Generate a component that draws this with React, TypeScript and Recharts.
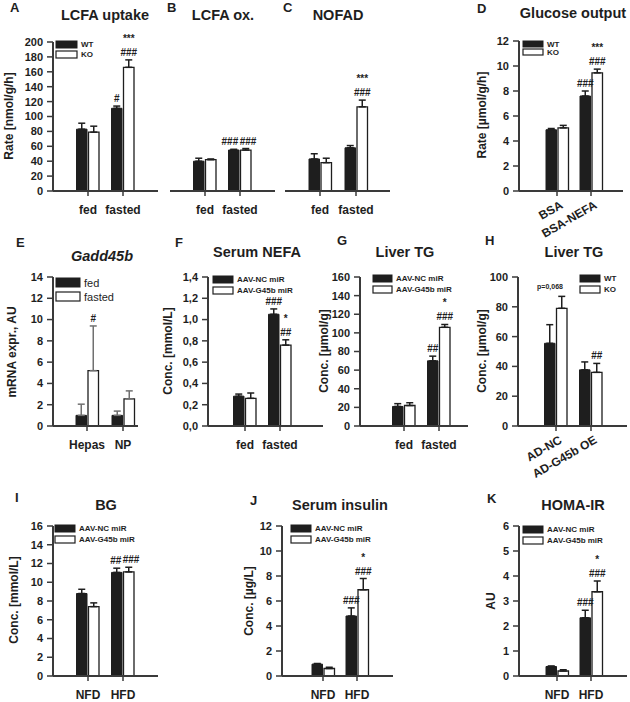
import React from "react";
import { Bar, BarChart, ErrorBar, LabelList, XAxis, YAxis } from "recharts";

const FONT = "'Liberation Sans', Arial, Helvetica, sans-serif";
const INK = "#1e1e1e";
const AXIS = "#3a3a3a";

// categories
const FED_FASTED = ["fed", "fasted"];
const BSA_GROUPS = ["BSA", "BSA-NEFA"];
const CELL_TYPES = ["Hepas", "NP"];
const AD_GROUPS = ["AD-NC", "AD-G45b OE"];
const DIETS = ["NFD", "HFD"];

// y ticks
const TICKS_200 = [0, 20, 40, 60, 80, 100, 120, 140, 160, 180, 200];
const TICKS_12 = [0, 2, 4, 6, 8, 10, 12];
const TICKS_14 = [0, 2, 4, 6, 8, 10, 12, 14];
const TICKS_NEFA = [0, 0.2, 0.4, 0.6, 0.8, 1.0, 1.2, 1.4];
const TICKS_160 = [0, 20, 40, 60, 80, 100, 120, 140, 160];
const TICKS_100 = [0, 20, 40, 60, 80, 100];
const TICKS_16 = [0, 2, 4, 6, 8, 10, 12, 14, 16];
const TICKS_6 = [0, 1, 2, 3, 4, 5, 6];

// significance strings: "|" splits lines, "<" / ">" push a label left / right
// A: LCFA uptake
const UPTAKE_WT = [83, 111];
const UPTAKE_WT_ERR = [8, 3];
const UPTAKE_WT_SIG = ["", "#"];
const UPTAKE_KO = [79, 166];
const UPTAKE_KO_ERR = [8, 10];
const UPTAKE_KO_SIG = ["", "***|###"];

// B: LCFA ox.
const OX_WT = [40, 55];
const OX_WT_ERR = [4, 1];
const OX_WT_SIG = ["", "<###"];
const OX_KO = [42, 55];
const OX_KO_ERR = [1, 2];
const OX_KO_SIG = ["", ">###"];

// C: NOFAD
const NOFAD_WT = [43, 58];
const NOFAD_WT_ERR = [7, 3];
const NOFAD_WT_SIG = ["", ""];
const NOFAD_KO = [38, 113];
const NOFAD_KO_ERR = [6, 9];
const NOFAD_KO_SIG = ["", "***|###"];

// D: glucose output
const GLUC_WT = [4.9, 7.6];
const GLUC_WT_ERR = [0.1, 0.4];
const GLUC_WT_SIG = ["", "###"];
const GLUC_KO = [5.05, 9.45];
const GLUC_KO_ERR = [0.2, 0.3];
const GLUC_KO_SIG = ["", "***|###"];

// E: Gadd45b
const GADD_FED = [1.0, 1.0];
const GADD_FED_ERR = [1.05, 0.4];
const GADD_FED_SIG = ["", ""];
const GADD_FASTED = [5.2, 2.55];
const GADD_FASTED_ERR = [4.2, 0.75];
const GADD_FASTED_SIG = ["#", ""];

// F: serum NEFA
const NEFA_NC = [0.28, 1.05];
const NEFA_NC_ERR = [0.02, 0.05];
const NEFA_NC_SIG = ["", "###"];
const NEFA_G45 = [0.26, 0.76];
const NEFA_G45_ERR = [0.05, 0.05];
const NEFA_G45_SIG = ["", "*|##"];

// G: liver TG (miR)
const TG_NC = [21, 70];
const TG_NC_ERR = [3, 5];
const TG_NC_SIG = ["", "##"];
const TG_G45 = [22, 106];
const TG_G45_ERR = [3, 3];
const TG_G45_SIG = ["", "*|###"];

// H: liver TG (OE)
const TGOE_WT = [55.5, 37.7];
const TGOE_WT_ERR = [12.5, 5.3];
const TGOE_WT_SIG = ["", ""];
const TGOE_KO = [79, 36];
const TGOE_KO_ERR = [8, 6];
const TGOE_KO_SIG = ["", "##"];

// I: BG
const BG_NC = [8.8, 11.05];
const BG_NC_ERR = [0.45, 0.45];
const BG_NC_SIG = ["", "<##"];
const BG_G45 = [7.4, 11.1];
const BG_G45_ERR = [0.4, 0.5];
const BG_G45_SIG = ["", ">###"];

// J: serum insulin
const INS_NC = [0.95, 4.8];
const INS_NC_ERR = [0.05, 0.65];
const INS_NC_SIG = ["", "###"];
const INS_G45 = [0.6, 6.9];
const INS_G45_ERR = [0.1, 0.9];
const INS_G45_SIG = ["", "*|###"];

// K: HOMA-IR
const HOMA_NC = [0.38, 2.33];
const HOMA_NC_ERR = [0.02, 0.3];
const HOMA_NC_SIG = ["", "###"];
const HOMA_G45 = [0.2, 3.37];
const HOMA_G45_ERR = [0.05, 0.43];
const HOMA_G45_SIG = ["", "*|###"];

type Series = { values: number[]; err: number[]; sig: string[] };

type PanelProps = {
  cats: string[];
  a: Series;
  b: Series;
  ticks: number[];
  axisX: number;
  axisEnd: number;
  t1: number;
  t2: number;
  yTop: number;
  yBottom: number;
  hideY?: boolean;
  rotate?: boolean;
  errColor?: string;
  comma?: boolean;
};

const sigRenderer = (err: number[], pxPerUnit: number) => (props: any) => {
  const vb = props.viewBox || {};
  const x = Number(props.x ?? vb.x);
  const y = Number(props.y ?? vb.y);
  const w = Number(props.width ?? vb.width);
  const { index } = props;
  let value = props.value ? String(props.value) : "";
  if (!value) return null;
  let anchor = "middle";
  let cx = x + w / 2;
  if (value.startsWith("<")) {
    anchor = "end";
    cx += 4.5;
    value = value.slice(1);
  } else if (value.startsWith(">")) {
    anchor = "start";
    cx -= 6;
    value = value.slice(1);
  }
  const lines = value.split("|");
  const base = y - err[index] * pxPerUnit - 4;
  return (
    <text textAnchor={anchor} fontSize={10} fontWeight="bold" fill={INK} fontFamily={FONT}>
      {lines.map((l, k) => (
        <tspan key={k} x={cx} y={base - (lines.length - 1 - k) * 14}>
          {l}
        </tspan>
      ))}
    </text>
  );
};

const RotTick = (props: any) => {
  const { x, y, payload } = props;
  const ax = x + 2;
  const ay = y + 1;
  return (
    <text
      x={ax}
      y={ay}
      dy="0.8em"
      textAnchor="end"
      fontSize={12}
      fontWeight="bold"
      fill={INK}
      fontFamily={FONT}
      transform={`rotate(-30 ${ax} ${ay})`}
    >
      {payload.value}
    </text>
  );
};

function Panel(p: PanelProps) {
  const yw = p.hideY ? 0 : 45;
  const xh = p.rotate ? 60 : 35;
  const mt = 34;
  const left = p.axisX - yw;
  const top = p.yTop - mt;
  const width = p.axisEnd + 2 - left;
  const height = p.yBottom - top + xh;
  const R = 2 * (p.t2 - p.t1);
  const pl = p.t1 - p.axisX - R / 4;
  const pr = p.axisEnd - p.axisX - R - pl;
  const max = p.ticks[p.ticks.length - 1];
  const ppu = (p.yBottom - p.yTop) / max;

  const data = p.cats.map((c, i) => ({
    cat: c,
    a: p.a.values[i],
    aErr: [0, p.a.err[i]],
    aSig: p.a.sig[i],
    b: p.b.values[i],
    bErr: [0, p.b.err[i]],
    bSig: p.b.sig[i],
  }));
  const errStroke = p.errColor || INK;

  return (
    <div style={{ position: "absolute", left, top, width, height }}>
      <BarChart
        width={width}
        height={height}
        data={data}
        margin={{ top: mt, right: 2, bottom: 0, left: 0 }}
        barSize={10.5}
        barGap={1.5}
      >
        <XAxis
          dataKey="cat"
          interval={0}
          padding={{ left: pl, right: pr }}
          height={xh}
          tickSize={5}
          tickMargin={p.rotate ? 2 : 9}
          axisLine={{ stroke: AXIS, strokeWidth: 2 }}
          tickLine={{ stroke: AXIS, strokeWidth: 1.5 }}
          tick={
            p.rotate
              ? RotTick
              : { fontSize: 12, fontWeight: "bold", fill: INK, fontFamily: FONT }
          }
        />
        <YAxis
          hide={p.hideY}
          width={yw}
          domain={[0, max]}
          ticks={p.ticks}
          interval={0}
          allowDataOverflow
          tickSize={6}
          tickMargin={4}
          axisLine={{ stroke: AXIS, strokeWidth: 2 }}
          tickLine={{ stroke: AXIS, strokeWidth: 1.5 }}
          tick={{ fontSize: 11, fontWeight: "bold", fill: INK, fontFamily: FONT }}
          tickFormatter={(v: number) => (p.comma ? v.toFixed(1).replace(".", ",") : String(v))}
        />
        <Bar dataKey="a" fill={INK} stroke={INK} strokeWidth={1} isAnimationActive={false}>
          <ErrorBar dataKey="aErr" width={3.5} strokeWidth={1.5} stroke={errStroke} direction="y" isAnimationActive={false} />
          <LabelList dataKey="aSig" content={sigRenderer(p.a.err, ppu)} />
        </Bar>
        <Bar dataKey="b" fill="#ffffff" stroke={INK} strokeWidth={1.3} isAnimationActive={false}>
          <ErrorBar dataKey="bErr" width={3.5} strokeWidth={1.5} stroke={errStroke} direction="y" isAnimationActive={false} />
          <LabelList dataKey="bSig" content={sigRenderer(p.b.err, ppu)} />
        </Bar>
      </BarChart>
    </div>
  );
}

const T = (props: any) => <text fontFamily={FONT} fill={INK} {...props} />;

const YLabel = ({ x, y, children }: { x: number; y: number; children: React.ReactNode }) => (
  <text
    x={x}
    y={y}
    textAnchor="middle"
    dominantBaseline="central"
    fontFamily={FONT}
    fontWeight="bold"
    fontSize={12}
    fill={INK}
    transform={`rotate(-90 ${x} ${y})`}
  >
    {children}
  </text>
);

const Legend2 = ({
  x, y, labels, w = 20, h = 7, gap = 11, fs = 8, tx = 4, bold = true,
}: {
  x: number; y: number; labels: string[]; w?: number; h?: number; gap?: number; fs?: number; tx?: number; bold?: boolean;
}) => (
  <g>
    <rect x={x} y={y} width={w} height={h} fill={INK} stroke={INK} strokeWidth={1} />
    <rect x={x} y={y + gap} width={w} height={h} fill="#fff" stroke={INK} strokeWidth={1.2} />
    <T x={x + w + tx} y={y + h / 2} dominantBaseline="central" fontSize={fs} fontWeight={bold ? "bold" : "normal"}>
      {labels[0]}
    </T>
    <T x={x + w + tx} y={y + gap + h / 2} dominantBaseline="central" fontSize={fs} fontWeight={bold ? "bold" : "normal"}>
      {labels[1]}
    </T>
  </g>
);

const WT_KO = ["WT", "KO"];
const MIR = ["AAV-NC miR", "AAV-G45b miR"];

export default function App() {
  return (
    <div style={{ position: "absolute", left: 0, top: 0, width: 630, height: 702, background: "#fff", overflow: "hidden" }}>
      <Panel cats={FED_FASTED} ticks={TICKS_200}
        a={{ values: UPTAKE_WT, err: UPTAKE_WT_ERR, sig: UPTAKE_WT_SIG }}
        b={{ values: UPTAKE_KO, err: UPTAKE_KO_ERR, sig: UPTAKE_KO_SIG }}
        axisX={53} axisEnd={158} t1={88} t2={123} yTop={42} yBottom={191} />
      <Panel cats={FED_FASTED} ticks={TICKS_200} hideY
        a={{ values: OX_WT, err: OX_WT_ERR, sig: OX_WT_SIG }}
        b={{ values: OX_KO, err: OX_KO_ERR, sig: OX_KO_SIG }}
        axisX={170} axisEnd={275} t1={205} t2={240} yTop={42} yBottom={191} />
      <Panel cats={FED_FASTED} ticks={TICKS_200} hideY
        a={{ values: NOFAD_WT, err: NOFAD_WT_ERR, sig: NOFAD_WT_SIG }}
        b={{ values: NOFAD_KO, err: NOFAD_KO_ERR, sig: NOFAD_KO_SIG }}
        axisX={285} axisEnd={390} t1={320} t2={356} yTop={42} yBottom={191} />
      <Panel cats={BSA_GROUPS} ticks={TICKS_12} rotate
        a={{ values: GLUC_WT, err: GLUC_WT_ERR, sig: GLUC_WT_SIG }}
        b={{ values: GLUC_KO, err: GLUC_KO_ERR, sig: GLUC_KO_SIG }}
        axisX={519} axisEnd={623} t1={557} t2={591} yTop={41} yBottom={191} />

      <Panel cats={CELL_TYPES} ticks={TICKS_14} errColor="#707070"
        a={{ values: GADD_FED, err: GADD_FED_ERR, sig: GADD_FED_SIG }}
        b={{ values: GADD_FASTED, err: GADD_FASTED_ERR, sig: GADD_FASTED_SIG }}
        axisX={53} axisEnd={138} t1={87} t2={123} yTop={277} yBottom={426} />
      <Panel cats={FED_FASTED} ticks={TICKS_NEFA} comma
        a={{ values: NEFA_NC, err: NEFA_NC_ERR, sig: NEFA_NC_SIG }}
        b={{ values: NEFA_G45, err: NEFA_G45_ERR, sig: NEFA_G45_SIG }}
        axisX={208} axisEnd={323} t1={245} t2={280} yTop={277} yBottom={426} />
      <Panel cats={FED_FASTED} ticks={TICKS_160}
        a={{ values: TG_NC, err: TG_NC_ERR, sig: TG_NC_SIG }}
        b={{ values: TG_G45, err: TG_G45_ERR, sig: TG_G45_SIG }}
        axisX={360} axisEnd={468} t1={404} t2={439} yTop={277} yBottom={426} />
      <Panel cats={AD_GROUPS} ticks={TICKS_100} rotate
        a={{ values: TGOE_WT, err: TGOE_WT_ERR, sig: TGOE_WT_SIG }}
        b={{ values: TGOE_KO, err: TGOE_KO_ERR, sig: TGOE_KO_SIG }}
        axisX={518} axisEnd={627} t1={556} t2={591} yTop={277} yBottom={426} />

      <Panel cats={DIETS} ticks={TICKS_16}
        a={{ values: BG_NC, err: BG_NC_ERR, sig: BG_NC_SIG }}
        b={{ values: BG_G45, err: BG_G45_ERR, sig: BG_G45_SIG }}
        axisX={53} axisEnd={158} t1={88} t2={123} yTop={526} yBottom={676} />
      <Panel cats={DIETS} ticks={TICKS_12}
        a={{ values: INS_NC, err: INS_NC_ERR, sig: INS_NC_SIG }}
        b={{ values: INS_G45, err: INS_G45_ERR, sig: INS_G45_SIG }}
        axisX={282} axisEnd={393} t1={323} t2={357} yTop={526} yBottom={676} />
      <Panel cats={DIETS} ticks={TICKS_6}
        a={{ values: HOMA_NC, err: HOMA_NC_ERR, sig: HOMA_NC_SIG }}
        b={{ values: HOMA_G45, err: HOMA_G45_ERR, sig: HOMA_G45_SIG }}
        axisX={519} axisEnd={627} t1={557} t2={591} yTop={526} yBottom={676} />

      <svg width={630} height={702} style={{ position: "absolute", left: 0, top: 0, pointerEvents: "none" }}>
        {/* panel letters */}
        <g fontSize={13} fontWeight="bold">
          <T x={10} y={12}>A</T>
          <T x={167} y={12}>B</T>
          <T x={283} y={12}>C</T>
          <T x={477} y={13}>D</T>
          <T x={16} y={247}>E</T>
          <T x={175} y={247}>F</T>
          <T x={337} y={245}>G</T>
          <T x={485} y={245}>H</T>
          <T x={15} y={502}>I</T>
          <T x={250} y={505}>J</T>
          <T x={487} y={503}>K</T>
        </g>
        {/* titles */}
        <g fontSize={14.5} fontWeight="bold" textAnchor="middle">
          <T x={105} y={20}>LCFA uptake</T>
          <T x={223} y={20}>LCFA ox.</T>
          <T x={338} y={20}>NOFAD</T>
          <T x={573} y={18}>Glucose output</T>
          <T x={102} y={261} fontStyle="italic">Gadd45b</T>
          <T x={257} y={257}>Serum NEFA</T>
          <T x={405} y={257}>Liver TG</T>
          <T x={574} y={257}>Liver TG</T>
          <T x={106} y={510}>BG</T>
          <T x={340} y={510}>Serum insulin</T>
          <T x={573} y={510}>HOMA-IR</T>
        </g>
        {/* y labels */}
        <YLabel x={9} y={116}>Rate [nmol/g/h]</YLabel>
        <YLabel x={482} y={115}>Rate [µmol/g/h]</YLabel>
        <YLabel x={12} y={352}>mRNA expr., AU</YLabel>
        <YLabel x={168} y={351}>Conc. [mmol/L]</YLabel>
        <YLabel x={324} y={351}>Conc. [µmol/g]</YLabel>
        <YLabel x={482} y={351}>Conc. [µmol/g]</YLabel>
        <YLabel x={14} y={600}>Conc. [mmol/L]</YLabel>
        <YLabel x={249} y={601}>Conc. [µg/L]</YLabel>
        <YLabel x={491} y={601}>AU</YLabel>
        {/* legends */}
        <Legend2 x={56} y={41} w={21} h={7} gap={10} labels={WT_KO} />
        <Legend2 x={523} y={41} w={20} h={6} gap={8} labels={WT_KO} />
        <Legend2 x={56} y={278} w={24} h={9} gap={14} fs={11} bold={false} labels={["fed", "fasted"]} />
        <Legend2 x={213} y={276} labels={MIR} />
        <Legend2 x={373} y={275} w={19} labels={MIR} />
        <Legend2 x={580} y={275} labels={WT_KO} />
        <T x={550} y={289} fontSize={7} fontWeight="bold" textAnchor="middle">p=0,068</T>
        <Legend2 x={55} y={525} labels={MIR} />
        <Legend2 x={291} y={525} labels={MIR} />
        <Legend2 x={523} y={526} labels={MIR} />
      </svg>
    </div>
  );
}
